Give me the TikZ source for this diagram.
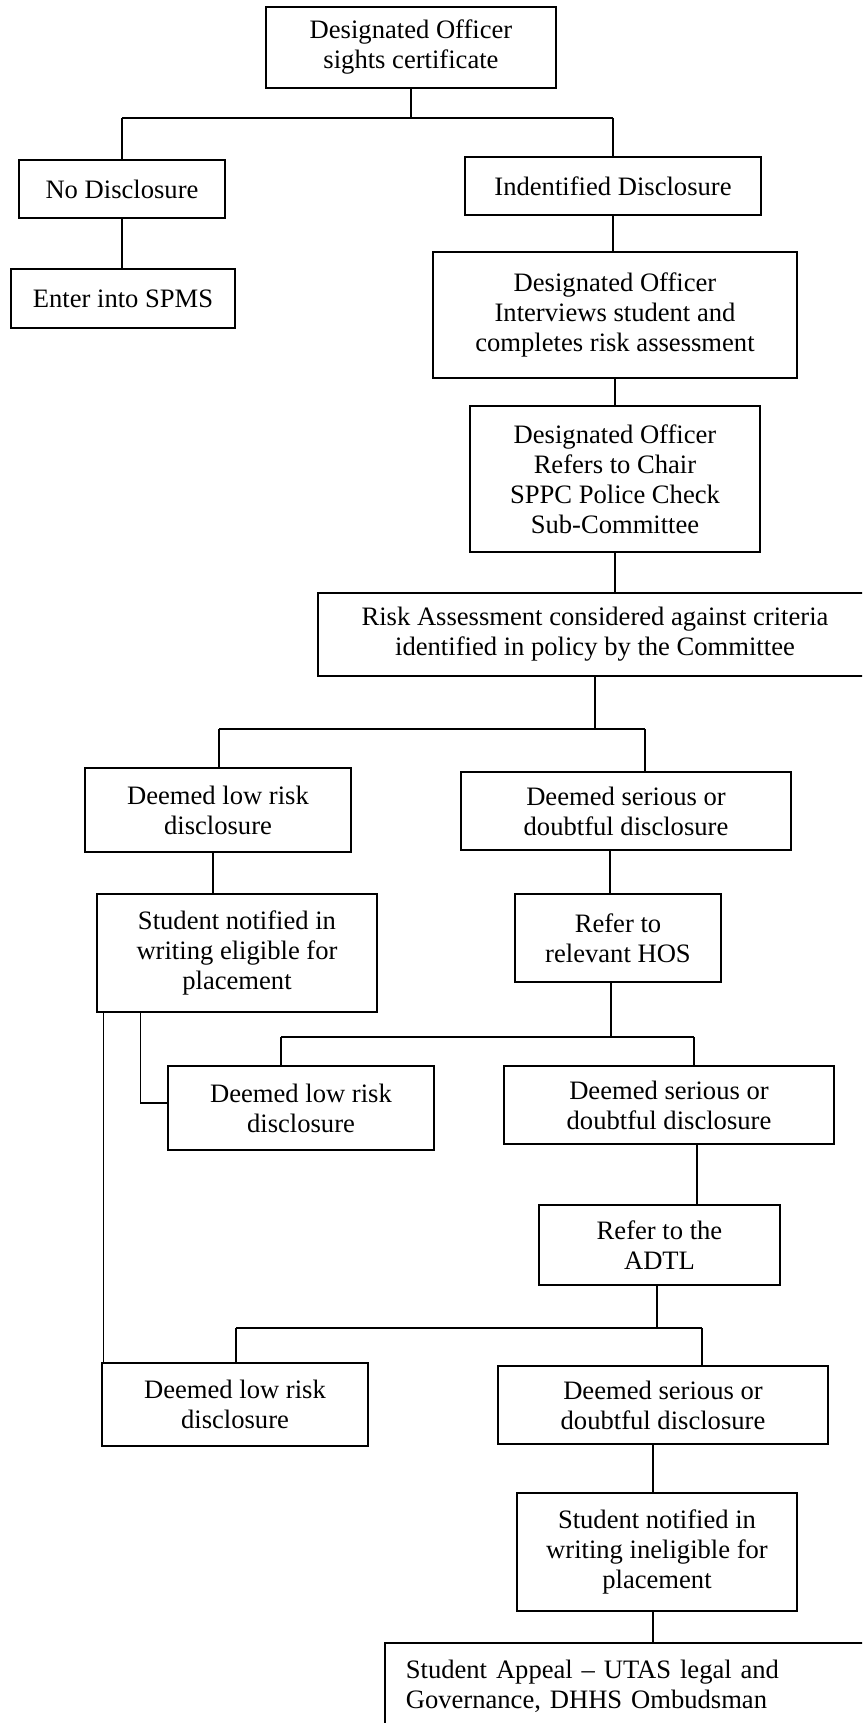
\documentclass[tikz,border=0pt]{standalone}
\usepackage{fontspec}
\setmainfont{Liberation Serif}
\begin{document}
\begin{tikzpicture}[x=0.5pt,y=-0.5pt,
  box/.style={draw,line width=0.85pt,rectangle,inner sep=0pt,align=center,font=\fontsize{13.3}{15}\selectfont},
  conn/.style={line width=0.6pt}]
\useasboundingbox (0,0) rectangle (862,1723);
\clip (0,0) rectangle (862,1723);
\fill[white] (0,0) rectangle (862,1723);
\node[box,minimum width=145pt,minimum height=40.5pt] (top) at (411,47.5) {Designated Officer\\sights certificate};
\node[box,minimum width=103pt,minimum height=29pt] (nodisc) at (122,189) {No Disclosure};
\node[box,minimum width=112pt,minimum height=29.5pt] (spms) at (123,298.5) {Enter into SPMS};
\node[box,minimum width=148pt,minimum height=29pt] (ident) at (613,186) {Indentified Disclosure};
\node[box,minimum width=182pt,minimum height=63pt] (interv) at (615,315) {Designated Officer\\Interviews student and\\completes risk assessment};
\node[box,minimum width=145pt,minimum height=73pt] (refers) at (615,479) {Designated Officer\\Refers to Chair\\SPPC Police Check\\Sub-Committee};
\node[box,minimum width=277pt,minimum height=41.5pt] (risk) at (595,634.5) {Risk Assessment considered against criteria\\identified in policy by the Committee};
\node[box,minimum width=133pt,minimum height=42pt] (low1) at (218,810) {Deemed low risk\\disclosure};
\node[box,minimum width=165pt,minimum height=39pt] (ser1) at (626,811) {Deemed serious or\\doubtful disclosure};
\node[box,minimum width=140pt,minimum height=59pt] (stud1) at (237,953) {Student notified in\\writing eligible for\\placement};
\node[box,minimum width=103pt,minimum height=44pt] (hos) at (618,938) {Refer to\\relevant HOS};
\node[box,minimum width=133pt,minimum height=42pt] (low2) at (301,1108) {Deemed low risk\\disclosure};
\node[box,minimum width=165pt,minimum height=39pt] (ser2) at (669,1105) {Deemed serious or\\doubtful disclosure};
\node[box,minimum width=120.5pt,minimum height=40pt] (adtl) at (659.5,1245) {Refer to the\\ADTL};
\node[box,minimum width=133pt,minimum height=41.5pt] (low3) at (235,1404.5) {Deemed low risk\\disclosure};
\node[box,minimum width=165pt,minimum height=39pt] (ser3) at (663,1405) {Deemed serious or\\doubtful disclosure};
\node[box,minimum width=140pt,minimum height=59pt] (stud2) at (657,1552) {Student notified in\\writing ineligible for\\placement};
\node[box,anchor=north west,align=left,text width=227pt,inner xsep=10.5pt,minimum height=43pt] (appeal) at (384,1642) {Student Appeal -- UTAS legal and\\Governance, DHHS Ombudsman};
% junction points
\coordinate (aL) at (122,118);
\coordinate (aR) at (613,118);
\coordinate (bL) at (219,729);
\coordinate (bR) at (645,729);
\coordinate (cL) at (281,1037);
\coordinate (cR) at (694,1037);
\coordinate (eL) at (236,1328);
\coordinate (eR) at (702,1328);
% connectors
\draw[conn] (top.south) -- (top.south |- aL);
\draw[conn] (aL) -- (aR);
\draw[conn] (aL) -- (aL |- nodisc.north);
\draw[conn] (aR) -- (aR |- ident.north);
\draw[conn] (nodisc.south) -- (nodisc.south |- spms.north);
\draw[conn] (ident.south) -- (ident.south |- interv.north);
\draw[conn] (interv.south) -- (interv.south |- refers.north);
\draw[conn] (refers.south) -- (refers.south |- risk.north);
\draw[conn] (risk.south) -- (risk.south |- bL);
\draw[conn] (bL) -- (bR);
\draw[conn] (bL) -- (bL |- low1.north);
\draw[conn] (bR) -- (bR |- ser1.north);
\draw[conn] ([xshift=-2.5pt]low1.south) -- ([xshift=-2.5pt]low1.south |- stud1.north);
\draw[conn] ([xshift=-4pt]hos.north) -- ([xshift=-4pt]hos.north |- ser1.south);
\draw[conn] ([xshift=-3.5pt]hos.south) -- ([xshift=-3.5pt]hos.south |- cL);
\draw[conn] (cL) -- (cR);
\draw[conn] (cL) -- (cL |- low2.north);
\draw[conn] (cR) -- (cR |- ser2.north);
\draw[conn] ([xshift=3.5pt]stud1.south west) -- ([xshift=3.5pt]stud1.south west |- low3.north);
\draw[conn] ([xshift=22pt]stud1.south west) |- ([yshift=2.5pt]low2.west);
\draw[conn] ([xshift=14pt]ser2.south) -- ([xshift=14pt]ser2.south |- adtl.north);
\draw[conn] ([xshift=-1.25pt]adtl.south) -- ([xshift=-1.25pt]adtl.south |- eL);
\draw[conn] (eL) -- (eR);
\draw[conn] (eL) -- (eL |- low3.north);
\draw[conn] (eR) -- (eR |- ser3.north);
\draw[conn] ([xshift=-2pt]stud2.north) -- ([xshift=-2pt]stud2.north |- ser3.south);
\draw[conn] ([xshift=-2pt]stud2.south) -- ([xshift=-2pt]stud2.south |- appeal.north);
\end{tikzpicture}
\end{document}
